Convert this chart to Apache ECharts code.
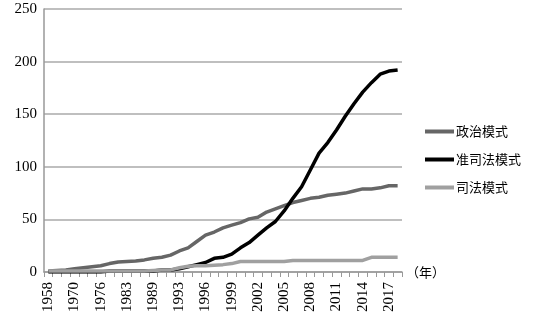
<!DOCTYPE html>
<html><head><meta charset="utf-8">
<script src="https://cdn.jsdelivr.net/npm/echarts@6/dist/echarts.min.js"></script>
<style>html,body{margin:0;padding:0;background:#fff}#c{width:542px;height:323px}</style>
</head><body><div id="c"></div>
<script>
var years = ['1958','1963','1966','1970','1972','1974','1976','1978','1980','1983','1985','1987','1989','1990','1991',
  '1993','1994','1995','1996','1997','1998','1999','2000','2001','2002','2003','2004','2005','2006','2007',
  '2008','2009','2010','2011','2012','2013','2014','2015','2016','2017','2018'];
var politicalMode = [1,1.5,2,3,4,5,6,8,9.5,10,10.5,11.5,13,14,16,
  20,23,29,35,38,42,44.5,47,50.5,52,57,60,63,66,68,
  70,71,73,74,75,77,79,79,80,82,82];
var quasiJudicialMode = [0,0,0,0,0,0,0,1,1,1,1,1,1,2,2,
  3,5,7,9,13,14,17,23,28,35,42,48,58,70,81,
  97,113,123,135,148,160,171,180,188,191,192];
var judicialMode = [1,1,1,1,1,1,1,1,1,1,1,1,1.5,2,2,
  4,5.5,6,6,6.5,7,8,10,10,10,10,10,10,11,11,
  11,11,11,11,11,11,11,14,14,14,14];
var seriesNames = ['政治模式','准司法模式','司法模式'];
var yTicks = {min:0, max:250, interval:50};

var chart = echarts.init(document.getElementById('c'), null, {renderer:'canvas'});
var serifFont = '"Liberation Serif","Times New Roman",serif';
function mk(name, data, color){
  return {name:name, type:'line', data:data, symbol:'none', showSymbol:false,
    lineStyle:{color:color, width:3.5}, itemStyle:{color:color}, animation:false};
}
chart.setOption({
  animation:false,
  grid:{left:44, right:140, top:9, bottom:51, containLabel:false},
  legend:{orient:'vertical', left:420, top:120, itemWidth:29, itemHeight:4, itemGap:15,
    icon:'rect',
    textStyle:{color:'#000', fontSize:13, fontFamily:'"Noto Sans CJK SC",sans-serif', padding:[0,0,0,-3]},
    data:seriesNames},
  xAxis:{type:'category', data:years, boundaryGap:true,
    name:'（年）', nameLocation:'end', nameGap:4,
    nameTextStyle:{color:'#000', fontSize:13, fontFamily:'"Noto Sans CJK SC",sans-serif', verticalAlign:'middle', padding:[4,0,0,0]},
    axisLine:{lineStyle:{color:'#999', width:1.5}},
    axisTick:{show:true, interval:0, length:5, lineStyle:{color:'#999'}},
    axisLabel:{interval:2, rotate:90, color:'#000', fontSize:15, fontFamily:serifFont, margin:10}},
  yAxis:{type:'value', min:yTicks.min, max:yTicks.max, interval:yTicks.interval,
    axisLine:{show:true, lineStyle:{color:'#999', width:1.5}},
    axisTick:{show:false},
    splitLine:{lineStyle:{color:'#aaa', width:1.5}},
    axisLabel:{color:'#000', fontSize:15, fontFamily:serifFont, margin:7}},
  series:[mk(seriesNames[0], politicalMode, '#666666'),
          mk(seriesNames[1], quasiJudicialMode, '#000000'),
          mk(seriesNames[2], judicialMode, '#a0a0a0')]
});
</script></body></html>
